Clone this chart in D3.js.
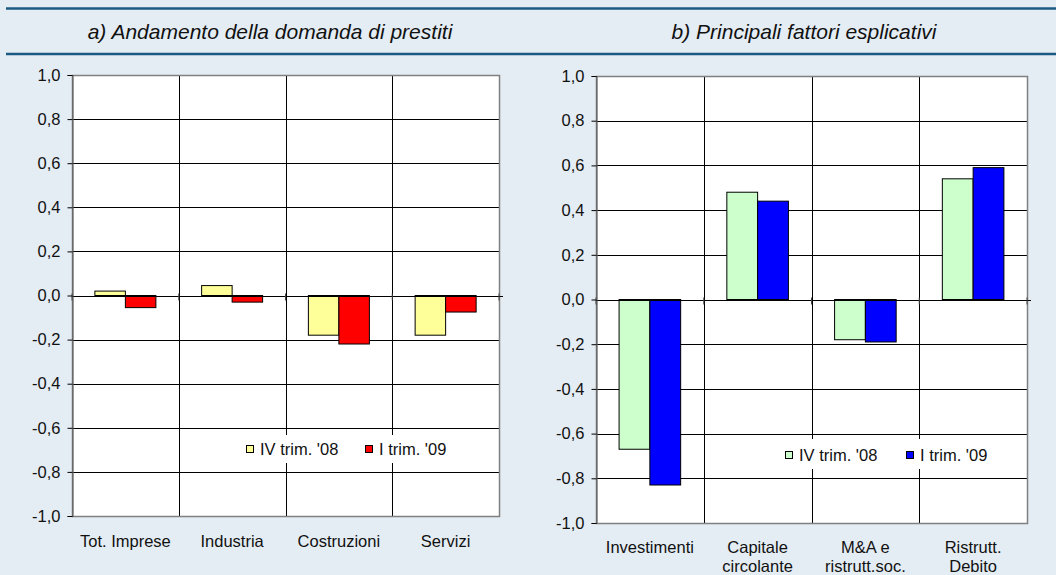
<!DOCTYPE html>
<html>
<head>
<meta charset="utf-8">
<script src="https://cdn.jsdelivr.net/npm/d3@7"></script>
<style>
  body { margin: 0; background: #e5edf4; }
  svg { display: block; font-family: "Liberation Sans", Arial, sans-serif; }
</style>
</head>
<body>
<svg id="chart" width="1056" height="575"></svg>
<script>
// panel a: loan demand by sector
const catsA = ["Tot. Imprese", "Industria", "Costruzioni", "Servizi"];
const q4A = [0.02, 0.045, -0.18, -0.18];
const q1A = [-0.055, -0.03, -0.22, -0.075];

// panel b: main explanatory factors
const catsB = [["Investimenti"], ["Capitale", "circolante"], ["M&A e", "ristrutt.soc."], ["Ristrutt.", "Debito"]];
const q4B = [-0.67, 0.48, -0.18, 0.54];
const q1B = [-0.83, 0.44, -0.19, 0.59];

const seriesNames = ["IV trim. '08", "I trim. '09"];
const yTicks = [-1, -0.8, -0.6, -0.4, -0.2, 0, 0.2, 0.4, 0.6, 0.8, 1];
const fmt = v => d3.format(".1f")(v).replace(".", ",").replace("−", "-");

const svg = d3.select("#chart");

// header lines
svg.append("rect").attr("x", 0).attr("y", 0).attr("width", 1056).attr("height", 575).attr("fill", "#e5edf4");
[8.5, 54].forEach(y => {
  svg.append("line").attr("x1", 6).attr("x2", 1056).attr("y1", y).attr("y2", y)
    .attr("stroke", "#1b5a82").attr("stroke-width", 2.5);
});

const titles = [
  {text: "a) Andamento della domanda di prestiti", x: 270},
  {text: "b) Principali fattori esplicativi", x: 804}
];
titles.forEach(t => {
  svg.append("text").attr("x", t.x).attr("y", 38.5).attr("text-anchor", "middle")
    .style("font-size", "21px").style("font-style", "italic").attr("fill", "#111").text(t.text);
});

function panel(opts) {
  const {cats, data, colors, left, right, top, bottom, legend, labelY} = opts;
  const g = svg.append("g");

  const x = d3.scaleBand().domain(d3.range(cats.length)).range([left, right]).paddingInner(0).paddingOuter(0);
  const xs = d3.scaleBand().domain(d3.range(data.length)).range([0, x.bandwidth()]).paddingInner(0).paddingOuter(0.75);
  const y = d3.scaleLinear().domain([-1, 1]).range([bottom, top]);

  // plot area
  g.append("rect").attr("x", left).attr("y", top).attr("width", right - left).attr("height", bottom - top)
    .attr("fill", "#fff");

  // horizontal gridlines
  g.selectAll(".hg").data(yTicks.filter(v => v !== -1 && v !== 1)).join("line")
    .attr("x1", left).attr("x2", right).attr("y1", d => Math.round(y(d)) + 0.5).attr("y2", d => Math.round(y(d)) + 0.5)
    .attr("stroke", "#000").attr("stroke-width", 1);

  // vertical gridlines
  g.selectAll(".vg").data(d3.range(1, cats.length)).join("line")
    .attr("x1", d => Math.round(x(d)) + 0.5).attr("x2", d => Math.round(x(d)) + 0.5)
    .attr("y1", top).attr("y2", bottom).attr("stroke", "#000").attr("stroke-width", 1);

  // border
  g.append("rect").attr("x", left + 0.5).attr("y", Math.round(top) + 0.5).attr("width", right - left)
    .attr("height", Math.round(bottom) - Math.round(top)).attr("fill", "none").attr("stroke", "#808080").attr("stroke-width", 1.5);

  // bars
  data.forEach((vals, s) => {
    g.selectAll(".bar" + s).data(vals).join("rect")
      .attr("x", (d, i) => x(i) + xs(s))
      .attr("width", xs.bandwidth())
      .attr("y", d => y(Math.max(0, d)))
      .attr("height", d => Math.abs(y(d) - y(0)))
      .attr("fill", colors[s]).attr("stroke", "#000").attr("stroke-width", 1);
  });

  // zero axis with crossing ticks
  const z = Math.round(y(0)) + 0.5;
  g.append("line").attr("x1", left).attr("x2", right + 4).attr("y1", z).attr("y2", z)
    .attr("stroke", "#000").attr("stroke-width", 1);
  g.selectAll(".zt").data(d3.range(0, cats.length + 1)).join("line")
    .attr("x1", d => d === cats.length ? right : x(d)).attr("x2", d => d === cats.length ? right : x(d))
    .attr("y1", z - 3).attr("y2", z + 4).attr("stroke", "#444");

  // y axis
  const yAxis = d3.axisLeft(y).tickValues(yTicks).tickFormat(fmt).tickSize(5).tickPadding(7);
  const ya = g.append("g").attr("transform", `translate(${left + 0.5},0)`).call(yAxis);
  ya.select(".domain").attr("stroke", "#555");
  ya.selectAll("text").style("font-size", "16.5px").attr("fill", "#111").attr("font-family", "Liberation Sans, Arial, sans-serif");

  // category labels
  cats.forEach((c, i) => {
    const lines = Array.isArray(c) ? c : [c];
    const t = g.append("text").attr("text-anchor", "middle").attr("fill", "#111").style("font-size", "16.5px");
    lines.forEach((ln, k) => {
      t.append("tspan").attr("x", x(i) + x.bandwidth() / 2).attr("y", labelY + k * 19).text(ln);
    });
  });

  // legend
  g.append("rect").attr("x", legend.x0).attr("y", legend.y0).attr("width", legend.w).attr("height", legend.h).attr("fill", "#fff");
  seriesNames.forEach((name, s) => {
    const lx = legend.items[s];
    g.append("rect").attr("x", lx + 0.5).attr("y", legend.cy - 3.5).attr("width", 7).attr("height", 7)
      .attr("fill", colors[s]).attr("stroke", "#000").attr("stroke-width", 1);
    g.append("text").attr("x", lx + 14).attr("y", legend.cy + 6).attr("fill", "#111")
      .style("font-size", "16.5px").text(name);
  });
}

panel({
  cats: catsA, data: [q4A, q1A], colors: ["#ffff99", "#ff0000"],
  left: 72, right: 499, top: 75, bottom: 516, labelY: 547,
  legend: {x0: 240, y0: 435, w: 210, h: 28, cy: 449, items: [246, 365]}
});

panel({
  cats: catsB, data: [q4B, q1B], colors: ["#ccffcc", "#0000ff"],
  left: 596, right: 1027, top: 76, bottom: 523, labelY: 553,
  legend: {x0: 779, y0: 439, w: 220, h: 30, cy: 455, items: [785, 906]}
});
</script>
</body>
</html>
